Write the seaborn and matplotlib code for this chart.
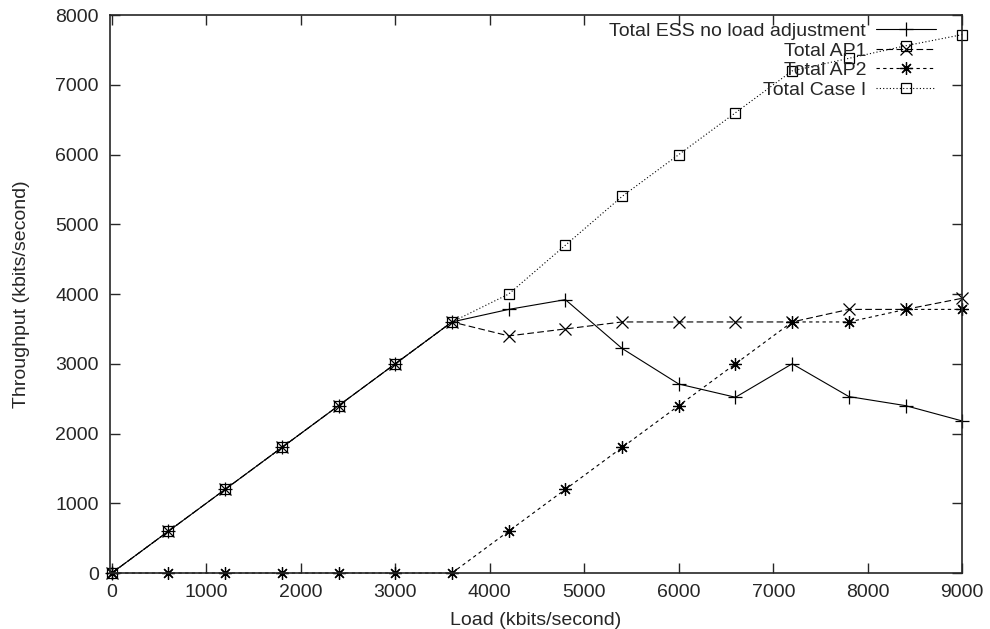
import pandas as pd
import matplotlib
matplotlib.use("Agg")
import matplotlib.pyplot as plt
import seaborn as sns

# Data
load = [0, 600, 1200, 1800, 2400, 3000, 3600, 4200, 4800, 5400, 6000, 6600, 7200, 7800, 8400, 9000]
ess = [0, 600, 1200, 1800, 2400, 3000, 3600, 3780, 3920, 3220, 2710, 2520, 3000, 2530, 2400, 2180]
ap1 = [0, 600, 1200, 1800, 2400, 3000, 3600, 3400, 3500, 3600, 3600, 3600, 3600, 3780, 3780, 3940]
ap2 = [0, 0, 0, 0, 0, 0, 0, 600, 1200, 1800, 2400, 3000, 3600, 3600, 3780, 3780]
case1 = [0, 600, 1200, 1800, 2400, 3000, 3600, 4000, 4700, 5400, 6000, 6600, 7200, 7380, 7560, 7720]

labels = ["Total ESS no load adjustment", "Total AP1", "Total AP2", "Total Case I"]
series = [ess, ap1, ap2, case1]

sns.set_style("ticks")
plt.rcParams["font.family"] = ["Liberation Sans", "DejaVu Sans"]

fig = plt.figure(figsize=(9.9, 6.29), dpi=100)
ax = fig.add_axes([0.111, 0.089, 0.861, 0.887])

styles = [
    dict(marker="+", markersize=10, linestyle="-"),
    dict(marker="x", markersize=8, linestyle=(0, (6, 3))),
    dict(marker=(8, 2, 0), markersize=9, linestyle=(0, (3, 3))),
    dict(marker="s", markersize=7, markerfacecolor="none", linestyle=(0, (1, 2))),
]

for vals, st in zip(series, styles):
    df = pd.DataFrame({"load": load, "throughput": vals})
    sns.lineplot(data=df, x="load", y="throughput", ax=ax, color="black",
                 linewidth=0.8, markeredgewidth=0.9, markeredgecolor="black",
                 legend=False, clip_on=False, **st)

ax.set_xlim(-20, 9000)
ax.set_ylim(0, 8000)
ax.set_xticks(range(0, 9001, 1000))
ax.set_yticks(range(0, 8001, 1000))
ax.tick_params(direction="in", top=True, right=True, length=7, width=1, pad=8, labelsize=14)
for s in ax.spines.values():
    s.set_linewidth(1.2)
ax.set_xlabel("Load (kbits/second)", fontsize=14, labelpad=8)
ax.set_ylabel("Throughput (kbits/second)", fontsize=14, labelpad=18)

ax.legend(handles=ax.lines[:4], labels=labels, loc="upper right",
          bbox_to_anchor=(0.978, 1.0), frameon=False,
          markerfirst=False, fontsize=14, handlelength=3.1, borderaxespad=0,
          borderpad=0.38, labelspacing=0.1, handletextpad=0.5)

plt.savefig("out.png", dpi=100)
plt.close()
